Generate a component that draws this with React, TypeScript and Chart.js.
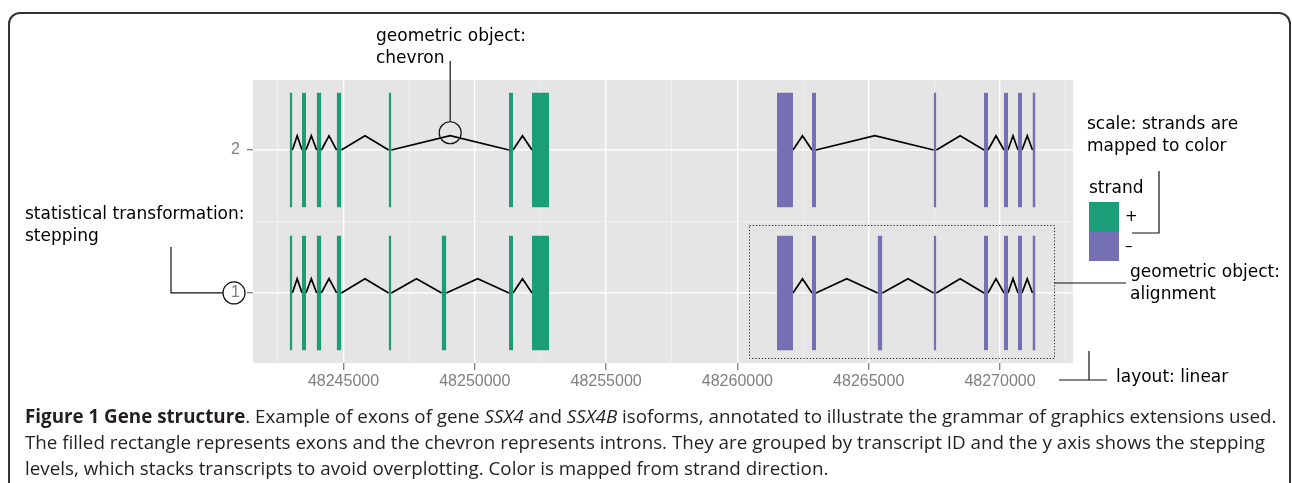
import React, { useEffect, useRef } from 'react';
import { Chart, registerables } from 'chart.js';

Chart.register(...registerables);

// ---- axes ----
const xMin = 48241554;
const xMax = 48272780;
const yMin = 0.51;
const yMax = 2.49;
const xMajorTicks = [48245000, 48250000, 48255000, 48260000, 48265000, 48270000];
const xMinorTicks = [48242500, 48247500, 48252500, 48257500, 48262500, 48267500, 48272500];
const yMajorTicks = [1, 2];
const yMinorTicks = [1.5];

// ---- strands (legend) ----
const strandNames = ['+', '–'];
const strandColors = ['#1B9E77', '#7570B3'];

// ---- exons (genomic coordinates) ----
const plusExonStarts = [48242950, 48243420, 48243978, 48244740, 48246720, 48248738, 48251303, 48252178];
const plusExonEnds = [48243053, 48243572, 48244157, 48244919, 48246822, 48248917, 48251455, 48252826];
const minusExonStarts = [48261508, 48262841, 48265341, 48267474, 48269391, 48270152, 48270686, 48271238];
const minusExonEnds = [48262117, 48262993, 48265519, 48267576, 48269543, 48270304, 48270838, 48271352];

// ---- transcripts: stepping level, strand, exon indices ----
const transcriptLevels = [1, 2, 1, 2];
const transcriptStrands = [0, 0, 1, 1];
const transcriptExons = [
  [0, 1, 2, 3, 4, 5, 6, 7],
  [0, 1, 2, 3, 4, 6, 7],
  [0, 1, 2, 3, 4, 5, 6, 7],
  [0, 1, 3, 4, 5, 6, 7],
];

const exonHalfHeight = 0.4;
const chevronHeight = 0.1;

const annoFont = '"DejaVu Sans", sans-serif';

function buildDatasets() {
  const sets: any[] = [];
  transcriptLevels.forEach((lvl, t) => {
    const s = transcriptStrands[t];
    const starts = s === 0 ? plusExonStarts : minusExonStarts;
    const ends = s === 0 ? plusExonEnds : minusExonEnds;
    const idx = transcriptExons[t];
    // exons
    idx.forEach((e) => {
      sets.push({
        type: 'line',
        label: 'exon',
        data: [
          { x: starts[e], y: lvl + exonHalfHeight },
          { x: ends[e], y: lvl + exonHalfHeight },
        ],
        fill: { value: lvl - exonHalfHeight },
        backgroundColor: strandColors[s],
        borderColor: strandColors[s],
        borderWidth: 0,
        pointRadius: 0,
        order: 0,
      });
    });
    // chevrons (introns)
    const pts: any[] = [];
    for (let i = 0; i < idx.length - 1; i++) {
      const a = ends[idx[i]];
      const b = starts[idx[i + 1]];
      pts.push({ x: a, y: lvl });
      pts.push({ x: (a + b) / 2, y: lvl + chevronHeight });
      pts.push({ x: b, y: lvl });
      pts.push({ x: b, y: null });
    }
    sets.push({
      type: 'line',
      label: 'intron',
      data: pts,
      borderColor: '#000000',
      borderWidth: 1.7,
      pointRadius: 0,
      fill: false,
      spanGaps: false,
      tension: 0,
      order: 1,
    });
  });
  return sets;
}

const panelPlugin = {
  id: 'panelAndAnnotations',
  beforeDraw(chart: any) {
    const { ctx, chartArea: a } = chart;
    ctx.save();
    ctx.fillStyle = '#E5E5E5';
    ctx.fillRect(a.left, a.top, a.right - a.left, a.bottom - a.top);
    ctx.restore();
  },
  afterDraw(chart: any) {
    const { ctx } = chart;
    const xs = chart.scales.x;
    const ys = chart.scales.y;
    ctx.save();
    ctx.strokeStyle = '#111';
    ctx.lineWidth = 1.2;
    // chevron marker
    const cx = xs.getPixelForValue((plusExonEnds[4] + plusExonStarts[6]) / 2);
    const cy = ys.getPixelForValue(2 + chevronHeight) - 3;
    ctx.beginPath();
    ctx.arc(cx, cy, 11, 0, Math.PI * 2);
    ctx.stroke();
    ctx.beginPath();
    ctx.moveTo(cx, cy - 11);
    ctx.lineTo(cx, 61);
    ctx.stroke();
    // stepping marker around y label 1
    const y1 = ys.getPixelForValue(1);
    ctx.beginPath();
    ctx.arc(234, y1, 11, 0, Math.PI * 2);
    ctx.stroke();
    ctx.beginPath();
    ctx.moveTo(223, y1);
    ctx.lineTo(171, y1);
    ctx.lineTo(171, 247);
    ctx.stroke();
    // legend pointer
    ctx.beginPath();
    ctx.moveTo(1159, 171);
    ctx.lineTo(1159, 233);
    ctx.lineTo(1132, 233);
    ctx.stroke();
    // alignment pointer
    ctx.beginPath();
    ctx.moveTo(1054, 283);
    ctx.lineTo(1126, 283);
    ctx.stroke();
    // layout pointer
    ctx.beginPath();
    ctx.moveTo(1089, 351);
    ctx.lineTo(1089, 380);
    ctx.moveTo(1059, 380);
    ctx.lineTo(1107, 380);
    ctx.stroke();
    // dotted alignment box
    ctx.setLineDash([1.2, 2]);
    ctx.lineWidth = 1;
    ctx.strokeStyle = '#222';
    ctx.strokeRect(749.5, 225.5, 305, 133);
    ctx.restore();
  },
};

function isIn(arr: number[], v: number) {
  return arr.some((a) => Math.abs(a - v) < 1e-6);
}

export default function App() {
  const ref = useRef<HTMLCanvasElement>(null);
  useEffect(() => {
    document.body.style.margin = '0';
    const canvas = ref.current!;
    const chart = new Chart(canvas, {
      type: 'line',
      data: { datasets: buildDatasets() },
      plugins: [panelPlugin],
      options: {
        animation: false,
        responsive: false,
        devicePixelRatio: 1,
        parsing: true,
        layout: { padding: { left: 193, right: 219, top: 80, bottom: 80 } },
        plugins: { legend: { display: false }, tooltip: { enabled: false } },
        scales: {
          x: {
            type: 'linear',
            min: xMin,
            max: xMax,
            afterBuildTicks: (s: any) => {
              s.ticks = [...xMinorTicks, ...xMajorTicks].sort((a, b) => a - b).map((v) => ({ value: v }));
            },
            afterFit: (s: any) => {
              s.height = 40;
            },
            border: { display: false },
            grid: {
              color: (c: any) => (c.tick && isIn(xMajorTicks, c.tick.value) ? '#FFFFFF' : '#F2F2F2'),
              lineWidth: (c: any) => (c.tick && isIn(xMajorTicks, c.tick.value) ? 1.4 : 0.8),
              tickColor: (c: any) => (c.tick && isIn(xMajorTicks, c.tick.value) ? '#7F7F7F' : 'rgba(0,0,0,0)'),
              tickLength: 7,
              tickWidth: 1.3,
            },
            ticks: {
              autoSkip: false,
              maxRotation: 0,
              padding: 2,
              color: '#7F7F7F',
              font: { family: '"Liberation Sans", Arial, sans-serif', size: 16 },
              callback: (v: any) => (isIn(xMajorTicks, Number(v)) ? String(v) : ''),
            },
          },
          y: {
            type: 'linear',
            min: yMin,
            max: yMax,
            afterBuildTicks: (s: any) => {
              s.ticks = [...yMajorTicks, ...yMinorTicks].sort((a, b) => a - b).map((v) => ({ value: v }));
            },
            afterFit: (s: any) => {
              s.width = 60;
            },
            border: { display: false },
            grid: {
              color: (c: any) => (c.tick && isIn(yMajorTicks, c.tick.value) ? '#FFFFFF' : '#F2F2F2'),
              lineWidth: (c: any) => (c.tick && isIn(yMajorTicks, c.tick.value) ? 1.4 : 0.8),
              tickColor: (c: any) => (c.tick && isIn(yMajorTicks, c.tick.value) ? '#7F7F7F' : 'rgba(0,0,0,0)'),
              tickLength: 6,
              tickWidth: 1.3,
            },
            ticks: {
              autoSkip: false,
              padding: 7,
              color: '#7F7F7F',
              font: { family: '"Liberation Sans", Arial, sans-serif', size: 16 },
              callback: (v: any) => (isIn(yMajorTicks, Number(v)) ? String(v) : ''),
            },
          },
        },
      } as any,
    });
    return () => chart.destroy();
  }, []);

  const abs = (left: number, top: number, extra: any = {}) => ({
    position: 'absolute' as const,
    left,
    top,
    ...extra,
  });
  const anno = { fontFamily: annoFont, fontSize: 17, lineHeight: '21.5px', color: '#000', whiteSpace: 'nowrap' as const };
  const cap = { fontFamily: '"Open Sans", sans-serif', fontSize: 18.8, lineHeight: '26px', color: '#231F20', whiteSpace: 'nowrap' as const };

  return (
    <div style={{ position: 'fixed', left: 0, top: 0, width: 1292, height: 483, overflow: 'hidden', background: '#fff' }}>
      <div
        style={abs(8, 12, {
          width: 1283,
          height: 520,
          border: '2px solid #333',
          borderRadius: 12,
          boxSizing: 'border-box',
        })}
      />
      <canvas ref={ref} width={1292} height={483} style={abs(0, 0, { width: 1292, height: 483 })} />
      <div style={abs(376, 25, anno)}>
        geometric object:
        <br />
        chevron
      </div>
      <div style={abs(25, 203, anno)}>
        statistical transformation:
        <br />
        stepping
      </div>
      <div style={abs(1087, 113, anno)}>
        scale: strands are
        <br />
        mapped to color
      </div>
      <div style={abs(1089, 177, anno)}>strand</div>
      {strandNames.map((n, i) => (
        <React.Fragment key={n}>
          <div style={abs(1089, 202 + i * 29.5, { width: 30, height: 29.5, background: strandColors[i] })} />
          <div style={abs(1125, 202 + i * 29.5, { ...anno, fontSize: 15, lineHeight: '29.5px' })}>{n}</div>
        </React.Fragment>
      ))}
      <div style={abs(1130, 261, anno)}>
        geometric object:
        <br />
        alignment
      </div>
      <div style={abs(1116, 366, anno)}>layout: linear</div>
      <div style={abs(25, 403, cap)}>
        <b>Figure 1 Gene structure</b>. Example of exons of gene <i>SSX4</i> and <i>SSX4B</i> isoforms, annotated to
        illustrate the grammar of graphics extensions used.
      </div>
      <div style={abs(25, 429, cap)}>
        The filled rectangle represents exons and the chevron represents introns. They are grouped by transcript ID and
        the y axis shows the stepping
      </div>
      <div style={abs(25, 455, cap)}>
        levels, which stacks transcripts to avoid overplotting. Color is mapped from strand direction.
      </div>
    </div>
  );
}
